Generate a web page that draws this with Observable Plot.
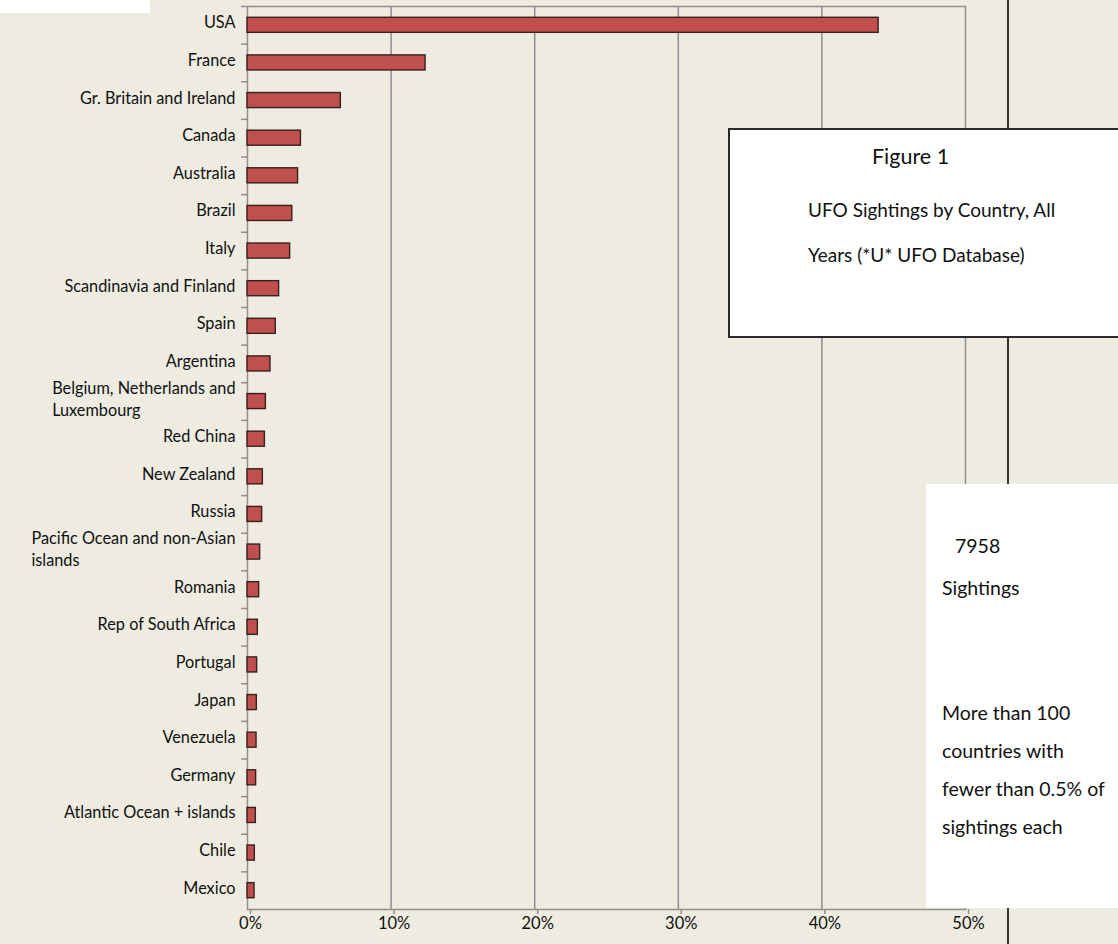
<!DOCTYPE html>
<html><head><meta charset="utf-8">
<script src="https://cdn.jsdelivr.net/npm/d3@7"></script>
<script src="https://cdn.jsdelivr.net/npm/@observablehq/plot@0.6"></script>
<style>
html,body{margin:0;padding:0;background:#EEECE1;}
#wrap{position:relative;width:1118px;height:944px;overflow:hidden;font-family:Lato,"Open Sans",sans-serif;color:#111;}
#chart{position:absolute;left:0;top:0;}
.ov{position:absolute;}
.t{position:absolute;white-space:nowrap;line-height:1;}
</style></head><body>
<div id="wrap">
  <div id="chart"></div>
  <div class="ov" style="left:0;top:0;width:150px;height:13px;background:#fff;"></div>
  <div class="ov" style="left:1007px;top:0;width:2px;height:944px;background:#333;"></div>
  <div class="ov" style="left:728px;top:128px;width:400px;height:206px;background:#fff;border:2px solid #2a2a2a;box-sizing:content-box;">
  </div>
  <div class="t" style="left:872px;top:146px;font-size:21.5px;">Figure 1</div>
  <div class="t" style="left:808px;top:200px;font-size:19px;">UFO Sightings by Country, All</div>
  <div class="t" style="left:808px;top:245px;font-size:19px;">Years (*U* UFO Database)</div>
  <div class="ov" style="left:926px;top:484px;width:200px;height:424px;background:#fff;"></div>
  <div class="t" style="left:955px;top:536px;font-size:19.5px;">7958</div>
  <div class="t" style="left:942px;top:578px;font-size:19.5px;">Sightings</div>
  <div class="t" style="left:942px;top:703px;font-size:19.5px;">More than 100</div>
  <div class="t" style="left:942px;top:741px;font-size:19.5px;">countries with</div>
  <div class="t" style="left:942px;top:779px;font-size:19.5px;">fewer than 0.5% of</div>
  <div class="t" style="left:942px;top:817px;font-size:19.5px;">sightings each</div>
</div>
<script>
const countries = [
  "USA", "France", "Gr. Britain and Ireland", "Canada", "Australia", "Brazil", "Italy",
  "Scandinavia and Finland", "Spain", "Argentina", "Belgium, Netherlands and\nLuxembourg",
  "Red China", "New Zealand", "Russia", "Pacific Ocean and non-Asian\nislands", "Romania",
  "Rep of South Africa", "Portugal", "Japan", "Venezuela", "Germany",
  "Atlantic Ocean + islands", "Chile", "Mexico"
];
const shares = [
  43.95, 12.4, 6.5, 3.72, 3.52, 3.12, 2.97, 2.2, 1.97, 1.6, 1.28,
  1.21, 1.07, 1.02, 0.88, 0.81, 0.72, 0.67, 0.65, 0.63, 0.6, 0.58, 0.51, 0.49
];
const xTicks = [0, 10, 20, 30, 40, 50];
const gridTicks = [10, 20, 30, 40];

const data = countries.map((c, i) => ({country: c, share: shares[i]}));
const gray = "#8e8e8e";
const step = (944 - 6 - 35) / countries.length;

const chart = Plot.plot({
  width: 1118,
  height: 944,
  marginLeft: 247,
  marginRight: 153,
  marginTop: 6,
  marginBottom: 35,
  style: {background: "transparent", fontFamily: "Lato, 'Open Sans', sans-serif", fontSize: "16px", color: "#111"},
  x: {domain: [0, 50], label: null},
  y: {domain: countries, paddingInner: 0.6, paddingOuter: 0.3, round: false, label: null},
  marks: [
    Plot.gridX(gridTicks, {stroke: gray, strokeOpacity: 1, strokeWidth: 1.5}),
    Plot.frame({stroke: gray, strokeWidth: 1.5}),
    Plot.axisX(xTicks, {tickSize: 5, stroke: gray, strokeWidth: 1.5, tickPadding: 3, fontSize: 16.5, dx: 3, tickFormat: d => d + "%", fill: "#111"}),
    Plot.axisY({tickSize: 6, stroke: gray, strokeWidth: 1.5, dy: -step / 2, tickFormat: () => ""}),
    Plot.axisY({tickSize: 0, tickPadding: 12, dy: -4, fontSize: 16.3, fill: "#111", lineHeight: 1.35}),
    Plot.barX(data, {x: "share", y: "country", fill: "#C0504D", stroke: "#3a1f1f", strokeWidth: 1.4})
  ]
});
document.getElementById("chart").appendChild(chart);

// left-align lines of wrapped labels within their block, as in the original
chart.querySelectorAll('g[aria-label="y-axis tick label"] text').forEach(t => {
  const spans = t.querySelectorAll("tspan");
  if (spans.length > 1) {
    let w = 0;
    spans.forEach(s => { w = Math.max(w, s.getComputedTextLength()); });
    t.setAttribute("text-anchor", "start");
    t.style.textAnchor = "start";
    spans.forEach(s => s.setAttribute("x", -w));
  }
});
</script>
</body></html>
